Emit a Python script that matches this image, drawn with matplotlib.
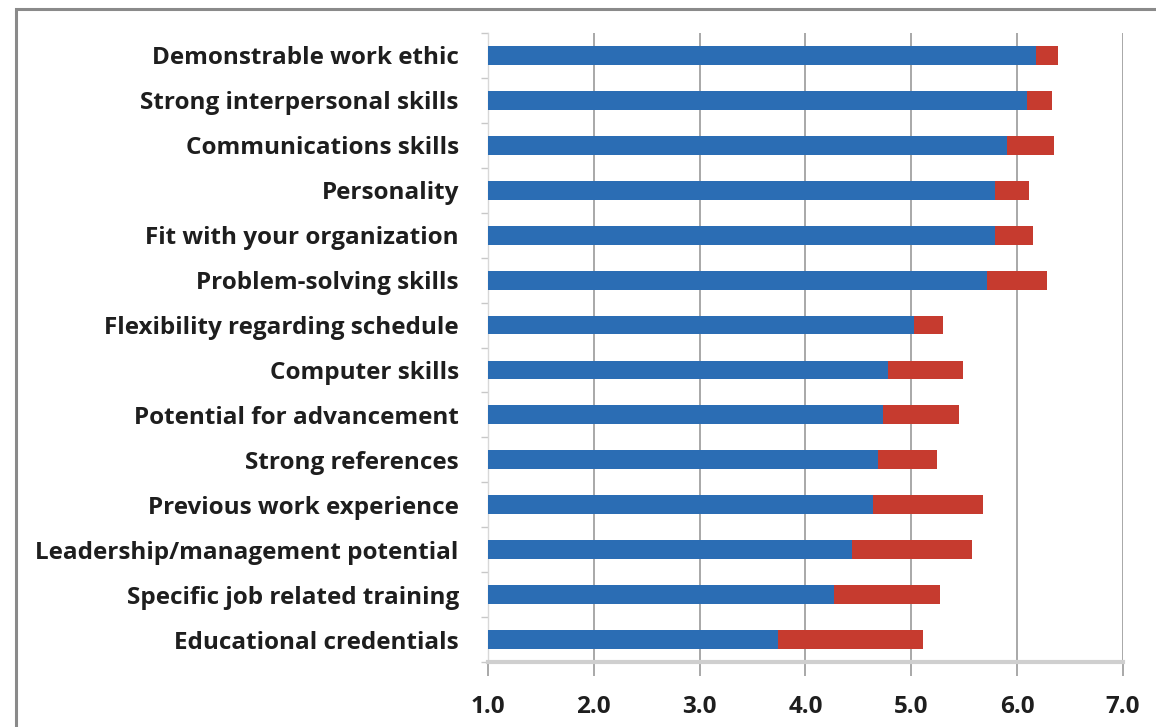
import numpy as np
import matplotlib.pyplot as plt
from matplotlib.patches import Rectangle

# attributes, top to bottom
attributes = [
    "Demonstrable work ethic",
    "Strong interpersonal skills",
    "Communications skills",
    "Personality",
    "Fit with your organization",
    "Problem-solving skills",
    "Flexibility regarding schedule",
    "Computer skills",
    "Potential for advancement",
    "Strong references",
    "Previous work experience",
    "Leadership/management potential",
    "Specific job related training",
    "Educational credentials",
]

# blue segment ends here (bars start at 1.0)
blue_end = [6.18, 6.09, 5.90, 5.79, 5.79, 5.72, 5.03, 4.78, 4.73, 4.69, 4.64, 4.44, 4.27, 3.74]
# red segment ends here
red_end = [6.39, 6.33, 6.35, 6.11, 6.15, 6.28, 5.30, 5.49, 5.45, 5.24, 5.68, 5.57, 5.27, 5.11]

x_ticks = [1.0, 2.0, 3.0, 4.0, 5.0, 6.0, 7.0]

blue = "#2b6db4"
red = "#c63b2f"

fig = plt.figure(figsize=(11.56, 7.27), dpi=100)
ax = fig.add_axes([0.4221, 0.0894, 0.5493, 0.8652])

y = np.arange(len(attributes))
blue_end = np.array(blue_end)
red_end = np.array(red_end)
ax.barh(y, blue_end - 1.0, left=1.0, height=0.42, color=blue, zorder=3)
ax.barh(y, red_end - blue_end, left=blue_end, height=0.42, color=red, zorder=3)

ax.set_xlim(1.0, 7.0)
ax.set_ylim(len(attributes) - 0.5, -0.5)

ax.set_xticks(x_ticks)
ax.set_xticklabels(["%.1f" % v for v in x_ticks])
ax.set_yticks(y)
ax.set_yticklabels(attributes)
ax.set_yticks(np.arange(len(attributes) + 1) - 0.5, minor=True)

ax.xaxis.grid(True, color="#9a9a9a", linewidth=1.2, zorder=0)
for s in ["top", "right"]:
    ax.spines[s].set_visible(False)
ax.spines["bottom"].set_color("#cfcfcf")
ax.spines["bottom"].set_linewidth(3)
ax.spines["left"].set_color("#d8d8d8")
ax.spines["left"].set_linewidth(1)

ax.tick_params(axis="x", length=10, width=1.2, color="#9a9a9a", pad=14,
               labelsize=17.5, labelcolor="#1e1e1e")
ax.tick_params(axis="y", which="major", length=0, pad=21,
               labelsize=17.5, labelcolor="#1e1e1e")
ax.tick_params(axis="y", which="minor", length=5, width=1, color="#c8c8c8")
for lab in ax.get_xticklabels() + ax.get_yticklabels():
    lab.set_family("Open Sans")
    lab.set_fontweight("bold")

# frame around the chart area
fig.add_artist(Rectangle((16 / 1156, -0.2), 1.2, 1.2 - 9 / 727,
                         transform=fig.transFigure, fill=False,
                         edgecolor="#8a8a8a", linewidth=2.2))

fig.savefig("out.png", dpi=100)
